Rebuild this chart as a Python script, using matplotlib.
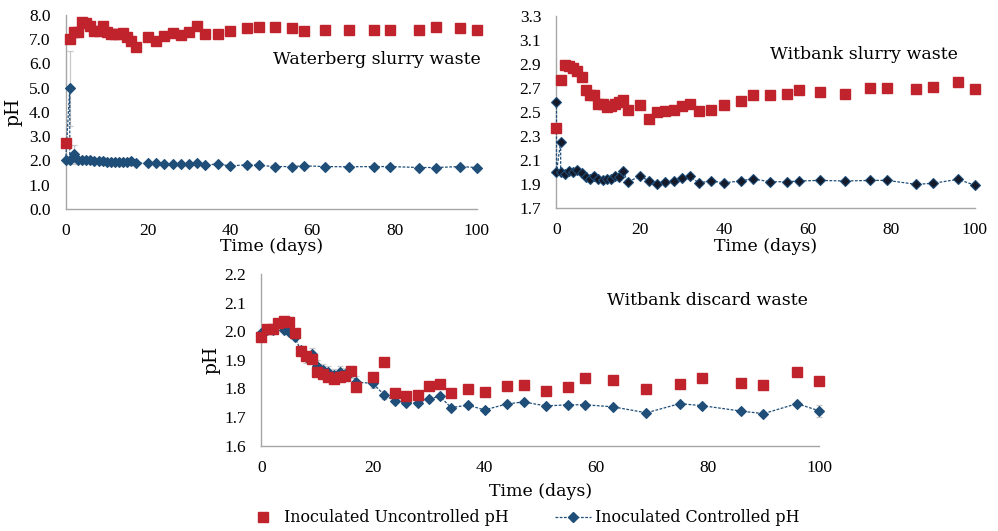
import matplotlib
matplotlib.use("Agg")
import matplotlib.pyplot as plt
from matplotlib.lines import Line2D
import numpy as np

plt.rcParams['font.family'] = ['DejaVu Serif']

# ---------------- data ----------------
days_main = [0, 1, 2, 3, 4, 5, 6, 7, 8, 9, 10, 11, 12, 13, 14, 15, 16, 17,
             20, 22, 24, 26, 28, 30, 32, 34, 37, 40, 44, 47, 51, 55, 58, 63,
             69, 75, 79, 86, 90, 96, 100]

# Waterberg slurry waste
wb_unc = [2.72, 7.01, 7.31, 7.31, 7.72, 7.65, 7.55, 7.35, 7.35, 7.55, 7.31, 7.20,
          7.20, 7.20, 7.27, 7.10, 6.94, 6.69, 7.10, 6.94, 7.13, 7.24, 7.17, 7.31,
          7.55, 7.20, 7.20, 7.35, 7.45, 7.49, 7.49, 7.45, 7.35, 7.40, 7.38, 7.40,
          7.40, 7.40, 7.49, 7.45, 7.40]
wb_unc_err = [0.1, 0.1, 0, 0, 0, 0, 0, 0, 0, 0, 0, 0, 0, 0, 0, 0.08, 0.1, 0.15,
              0, 0, 0, 0, 0, 0, 0, 0, 0, 0, 0, 0, 0, 0, 0, 0, 0, 0, 0, 0, 0, 0, 0]
wb_con_days = [0, 1, 1, 2, 3, 4, 5, 6, 7, 8, 9, 10, 11, 12, 13, 14, 15, 16, 17,
               20, 22, 24, 26, 28, 30, 32, 34, 37, 40, 44, 47, 51, 55, 58, 63,
               69, 75, 79, 86, 90, 96, 100]
wb_con = [2.00, 4.98, 2.00, 2.25, 2.02, 2.03, 2.03, 2.01, 1.98, 1.97, 1.96, 1.95,
          1.94, 1.93, 1.93, 1.94, 1.94, 1.96, 1.89, 1.89, 1.89, 1.85, 1.85, 1.85,
          1.86, 1.89, 1.82, 1.85, 1.78, 1.82, 1.80, 1.75, 1.75, 1.78, 1.75, 1.74,
          1.75, 1.75, 1.71, 1.71, 1.75, 1.71]
wb_con_err = [0, 1.55, 0, 0.4, 0, 0, 0, 0, 0, 0, 0, 0, 0, 0, 0, 0, 0, 0, 0,
              0, 0, 0, 0, 0, 0, 0, 0, 0, 0, 0, 0, 0, 0, 0, 0, 0, 0, 0, 0, 0, 0, 0]

# Witbank slurry waste
ws_unc = [2.37, 2.77, 2.89, 2.88, 2.87, 2.84, 2.79, 2.68, 2.64, 2.64, 2.57, 2.57,
          2.54, 2.55, 2.57, 2.58, 2.60, 2.52, 2.56, 2.44, 2.50, 2.51, 2.52, 2.55,
          2.57, 2.51, 2.52, 2.56, 2.59, 2.64, 2.64, 2.65, 2.68, 2.67, 2.65, 2.70,
          2.70, 2.69, 2.71, 2.75, 2.69]
ws_unc_err = [0, 0.04, 0, 0, 0, 0, 0, 0, 0, 0, 0, 0, 0.02, 0, 0, 0, 0, 0,
              0, 0, 0, 0, 0, 0, 0, 0, 0, 0, 0, 0, 0, 0, 0, 0, 0, 0, 0, 0, 0, 0, 0]
ws_con_days = [0, 0, 1, 1, 2, 3, 4, 5, 6, 7, 8, 9, 10, 11, 12, 13, 14, 15, 16, 17,
               20, 22, 24, 26, 28, 30, 32, 34, 37, 40, 44, 47, 51, 55, 58, 63,
               69, 75, 79, 86, 90, 96, 100]
ws_con = [2.58, 2.00, 2.25, 2.00, 1.985, 2.01, 1.997, 2.02, 1.99, 1.955, 1.944, 1.97,
          1.94, 1.933, 1.94, 1.94, 1.963, 1.96, 2.005, 1.916, 1.966, 1.927, 1.902,
          1.913, 1.922, 1.95, 1.963, 1.908, 1.927, 1.908, 1.927, 1.942, 1.919, 1.919,
          1.925, 1.93, 1.925, 1.93, 1.93, 1.897, 1.906, 1.939, 1.889]

# Witbank discard waste
wd_unc = [1.981, 2.007, 2.008, 2.028, 2.036, 2.033, 1.993, 1.931, 1.913, 1.902,
          1.859, 1.850, 1.841, 1.833, 1.841, 1.845, 1.862, 1.806, 1.840, 1.891,
          1.783, 1.774, 1.777, 1.810, 1.817, 1.783, 1.797, 1.787, 1.810, 1.812,
          1.790, 1.806, 1.837, 1.830, 1.797, 1.817, 1.837, 1.820, 1.812, 1.858,
          1.825]
wd_unc_err = [0, 0, 0, 0, 0, 0, 0, 0, 0, 0, 0, 0, 0, 0, 0, 0, 0, 0.02, 0, 0,
              0, 0, 0, 0, 0, 0, 0, 0, 0, 0, 0, 0, 0, 0, 0, 0, 0, 0, 0, 0, 0]
wd_con = [1.995, 2.005, 2.005, 2.030, 2.003, 1.996, 1.979, 1.935, 1.909, 1.920,
          1.879, 1.865, 1.859, 1.847, 1.859, 1.850, 1.858, 1.822, 1.818, 1.777,
          1.756, 1.750, 1.750, 1.764, 1.772, 1.733, 1.742, 1.725, 1.746, 1.753,
          1.739, 1.743, 1.743, 1.736, 1.715, 1.747, 1.740, 1.721, 1.712, 1.747,
          1.722]
wd_con_err = [0, 0, 0, 0.012, 0, 0, 0, 0, 0.02, 0.02, 0.02, 0.02, 0.02, 0.02, 0.02,
              0.02, 0.02, 0.02, 0.015, 0.015, 0, 0, 0, 0, 0, 0, 0, 0, 0, 0, 0, 0,
              0, 0, 0, 0, 0, 0, 0, 0, 0.02]

xticks = [0, 20, 40, 60, 80, 100]
yticks_wb = [0.0, 1.0, 2.0, 3.0, 4.0, 5.0, 6.0, 7.0, 8.0]
yticks_ws = [1.7, 1.9, 2.1, 2.3, 2.5, 2.7, 2.9, 3.1, 3.3]
yticks_wd = [1.6, 1.7, 1.8, 1.9, 2.0, 2.1, 2.2]

legend_labels = ["Inoculated Uncontrolled pH", "Inoculated Controlled pH"]

# ---------------- style ----------------
RED = "#C0232B"
BLUE = "#1F4E79"
GRAY = "#a6a6a6"
ERR = "#c8c8c8"
TICKFONT = "Liberation Serif"
FS = 12.5
LFS = 12.5

fig = plt.figure(figsize=(9.98, 5.31), dpi=100)

def style_axes(ax, yticks, xlab_y, ylab_x=None):
    for s in ("top", "right"):
        ax.spines[s].set_visible(False)
    for s in ("left", "bottom"):
        ax.spines[s].set_color(GRAY)
        ax.spines[s].set_linewidth(1.0)
    ax.set_xlim(0, 100)
    ax.set_ylim(yticks[0], yticks[-1])
    ax.set_xticks(xticks)
    ax.set_yticks(yticks)
    ax.set_yticklabels([f"{v:.1f}" for v in yticks])
    ax.tick_params(length=0, labelsize=FS)
    ax.tick_params(axis="x", pad=10)
    ax.tick_params(axis="y", pad=11)
    for lab in ax.get_xticklabels() + ax.get_yticklabels():
        lab.set_fontfamily(TICKFONT)
    ax.set_xlabel("Time (days)", fontsize=LFS)
    ax.xaxis.set_label_coords(0.5, xlab_y)
    if ylab_x is not None:
        ax.set_ylabel("pH", fontsize=LFS + 1)
        ax.yaxis.set_label_coords(ylab_x, 0.5)

def draw(ax, d_unc, unc, unc_err, d_con, con, con_err, mfc=BLUE):
    if con_err is not None:
        ax.errorbar(d_con, con, yerr=con_err, fmt="none", ecolor=ERR,
                    elinewidth=0.9, capsize=2.5, capthick=0.9, zorder=1, clip_on=False)
    if unc_err is not None:
        ax.errorbar(d_unc, unc, yerr=unc_err, fmt="none", ecolor=ERR,
                    elinewidth=0.9, capsize=2.5, capthick=0.9, zorder=1, clip_on=False)
    ax.plot(d_con, con, color=BLUE, lw=0.9, ls=(0, (2.2, 1.2)), marker="D",
            ms=4.8, mfc=mfc, mec=BLUE, mew=0.8, zorder=3, clip_on=False)
    ax.plot(d_unc, unc, ls="none", marker="s", ms=7.4, mfc=RED, mec=RED,
            zorder=4, clip_on=False)

ax1 = fig.add_axes([0.0658, 0.6064, 0.4120, 0.3654])
draw(ax1, days_main, wb_unc, wb_unc_err, wb_con_days, wb_con, wb_con_err)
style_axes(ax1, yticks_wb, -0.150, -0.106)
ax1.text(0.757, 0.768, "Waterberg slurry waste", transform=ax1.transAxes,
         ha="center", va="center", fontsize=LFS)

ax2 = fig.add_axes([0.5576, 0.6083, 0.4193, 0.3616])
draw(ax2, days_main, ws_unc, ws_unc_err, ws_con_days, ws_con, None, mfc="#141a2a")
style_axes(ax2, yticks_ws, -0.157)
ax2.text(0.735, 0.797, "Witbank slurry waste", transform=ax2.transAxes,
         ha="center", va="center", fontsize=LFS)

ax3 = fig.add_axes([0.2620, 0.1606, 0.5589, 0.3234])
draw(ax3, days_main, wd_unc, wd_unc_err, days_main, wd_con, wd_con_err)
style_axes(ax3, yticks_wd, -0.217, -0.073)
ax3.text(0.799, 0.845, "Witbank discard waste", transform=ax3.transAxes,
         ha="center", va="center", fontsize=LFS)

handles = [Line2D([], [], ls="none", marker="s", ms=7.4, mfc=RED, mec=RED),
           Line2D([], [], color=BLUE, lw=0.9, ls=(0, (2.2, 1.2)), marker="D",
                  ms=4.8, mfc=BLUE, mec=BLUE)]
fig.legend(handles, legend_labels, loc="center", bbox_to_anchor=(0.523, 0.0245),
           ncol=2, frameon=False, fontsize=11.4, handlelength=2.3,
           handletextpad=0.2, columnspacing=2.9)

fig.savefig("out.png", dpi=100)
